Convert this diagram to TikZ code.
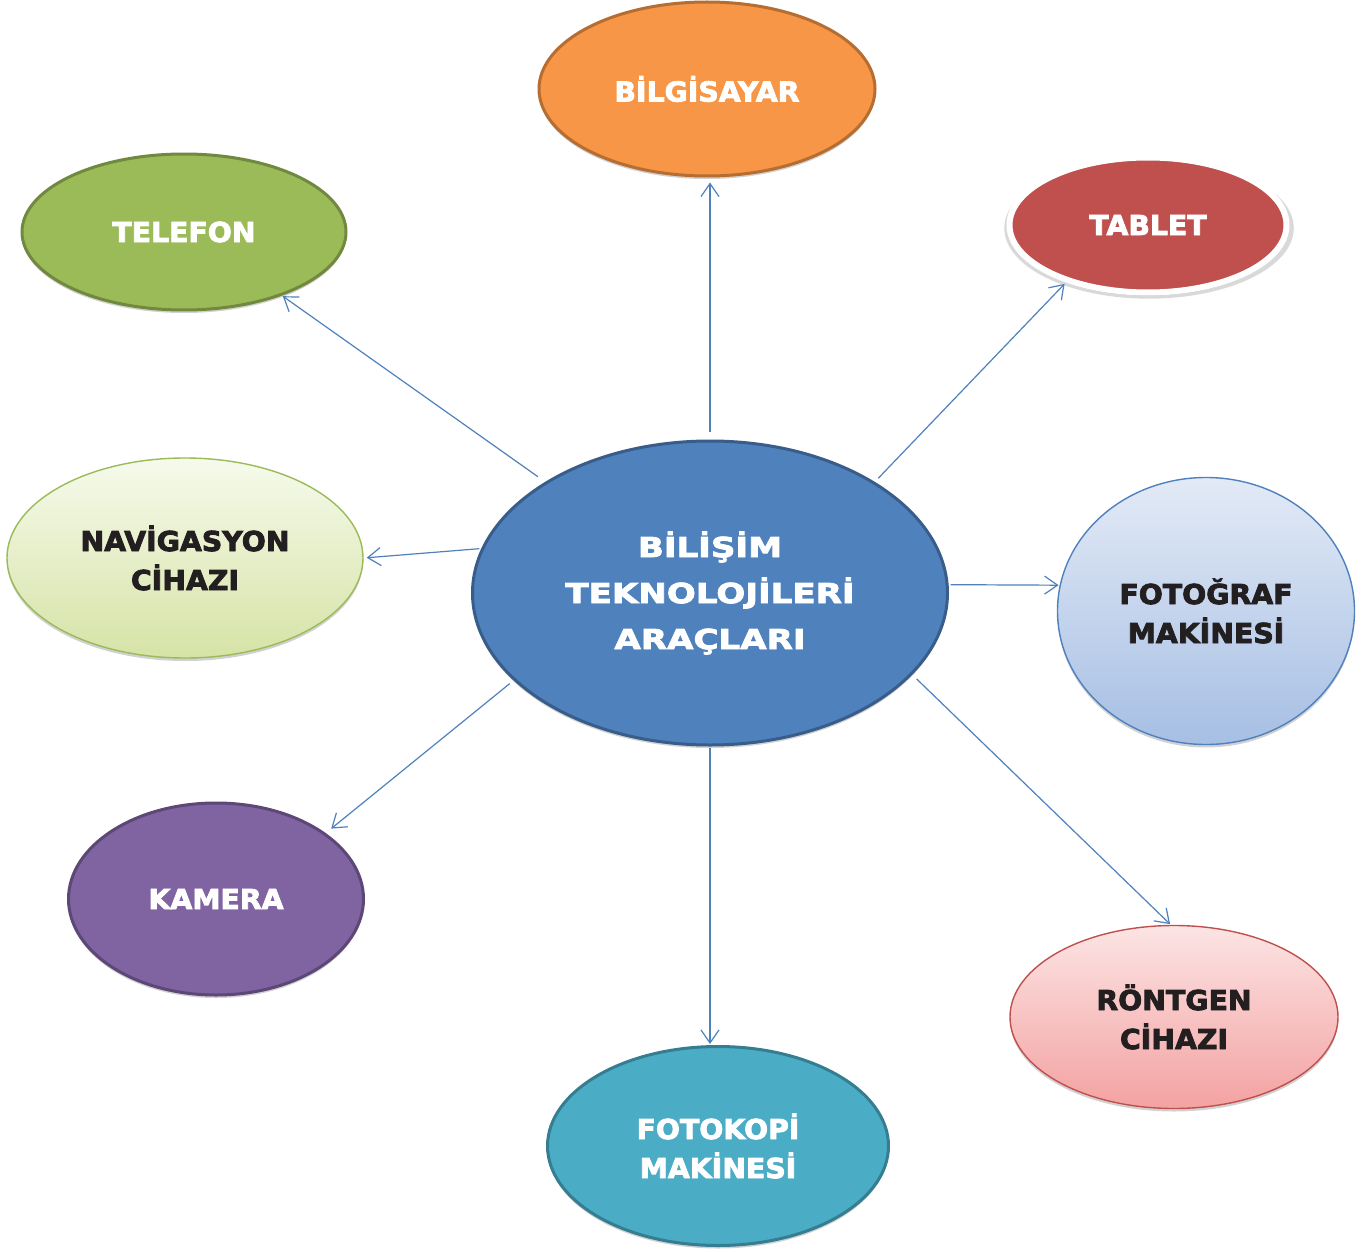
\documentclass[tikz,border=0pt]{standalone}
\usepackage{fontspec}
\setmainfont{DejaVu Sans}
\newfontfamily\lblfont[FakeStretch=1.03,FakeBold=3]{DejaVu Sans}
\newfontfamily\ctrfont[FakeStretch=1.24,FakeBold=3]{DejaVu Sans}
\usetikzlibrary{shapes.geometric,arrows.meta,shadows}
\definecolor{txtdark}{HTML}{231F20}
\definecolor{arrowblue}{HTML}{4F81BD}
\definecolor{orangeF}{HTML}{F79646}\definecolor{orangeB}{HTML}{B66D31}
\definecolor{greenF}{HTML}{9BBB59}\definecolor{greenB}{HTML}{71893F}
\definecolor{redF}{HTML}{C0504D}
\definecolor{blueF}{HTML}{4F81BD}\definecolor{blueB}{HTML}{385D8A}
\definecolor{purpleF}{HTML}{8064A2}\definecolor{purpleB}{HTML}{5C4776}
\definecolor{tealF}{HTML}{4BACC6}\definecolor{tealB}{HTML}{357D91}
\definecolor{navT}{HTML}{F6FAEC}\definecolor{navB}{HTML}{D6E3A6}
\definecolor{fotT}{HTML}{E3EAF6}\definecolor{fotB}{HTML}{A6BFE4}
\definecolor{ronT}{HTML}{FCE4E4}\definecolor{ronB}{HTML}{F3A2A1}
\begin{document}
\begin{tikzpicture}[x=1pt,y=-1pt,
  bub/.style={ellipse,inner sep=0pt,align=center,
    drop shadow={shadow xshift=0pt,shadow yshift=-3pt,opacity=0.18,fill=black}},
  solidbub/.style={bub,line width=3pt,text=white,font=\lblfont\bfseries\fontsize{27.5}{39}\selectfont},
  gradbub/.style={bub,line width=1.4pt,text=txtdark,font=\lblfont\bfseries\fontsize{27.5}{39}\selectfont},
  conn/.style={draw=arrowblue,line width=1.2pt,-{Straight Barb[length=13pt,width=18pt,line width=1.2pt]}}
]
\useasboundingbox[fill=white] (0,0) rectangle (1371,1252);

\node[solidbub,fill=orangeF,draw=orangeB,minimum width=336pt,minimum height=174pt] (bil) at (707,89) {BİLGİSAYAR};
\node[solidbub,fill=greenF,draw=greenB,minimum width=324pt,minimum height=156pt] (tel) at (184,232) {TELEFON};
\node[solidbub,fill=redF,draw=white,line width=6pt,minimum width=277pt,minimum height=135pt,
  drop shadow={shadow xshift=1pt,shadow yshift=-3pt,shadow scale=1.045,opacity=0.15,fill=black}] (tab) at (1148,225) {TABLET};
\node[gradbub,top color=navT,bottom color=navB,draw=greenF,minimum width=356pt,minimum height=200pt] (nav) at (185,558) {NAVİGASYON\\CİHAZI};
\node[solidbub,fill=blueF,draw=blueB,minimum width=475pt,minimum height=304pt,font=\ctrfont\bfseries\fontsize{27.5}{46}\selectfont] (c) at (710,593) {BİLİŞİM\\TEKNOLOJİLERİ\\ARAÇLARI};
\node[gradbub,top color=fotT,bottom color=fotB,draw=blueF,minimum width=297pt,minimum height=267pt] (fot) at (1206,611) {FOTOĞRAF\\MAKİNESİ};
\node[solidbub,fill=purpleF,draw=purpleB,minimum width=295pt,minimum height=192pt] (kam) at (216,899) {KAMERA};
\node[solidbub,fill=tealF,draw=tealB,minimum width=341pt,minimum height=199pt] (fk) at (718,1146) {FOTOKOPİ\\MAKİNESİ};
\node[gradbub,top color=ronT,bottom color=ronB,draw=redF,minimum width=328pt,minimum height=183pt] (ront) at (1174,1017) {RÖNTGEN\\CİHAZI};

\draw[conn,shorten <=8pt,shorten >=5pt] (c.90) -- (c.90 |- bil.south);
\draw[conn,shorten <=9pt,shorten >=1pt] (c.146) -- (tel.-33);
\draw[conn,shorten <=5pt,shorten >=2pt] (c.34) -- (tab.215);
\draw[conn,shorten <=2pt,shorten >=3pt] (c.169) -- (nav.0);
\draw[conn,shorten <=2pt,shorten >=1pt] (c.2) -- (fot.170);
\draw[conn,shorten <=5pt,shorten >=7pt] (c.204) -- (kam.31);
\draw[conn,shorten <=1pt,shorten >=1pt] (c.270) -- (c.270 |- fk.north);
\draw[conn,shorten <=6pt,shorten >=1pt] (c.-22) -- (ront.92);
\end{tikzpicture}
\end{document}
